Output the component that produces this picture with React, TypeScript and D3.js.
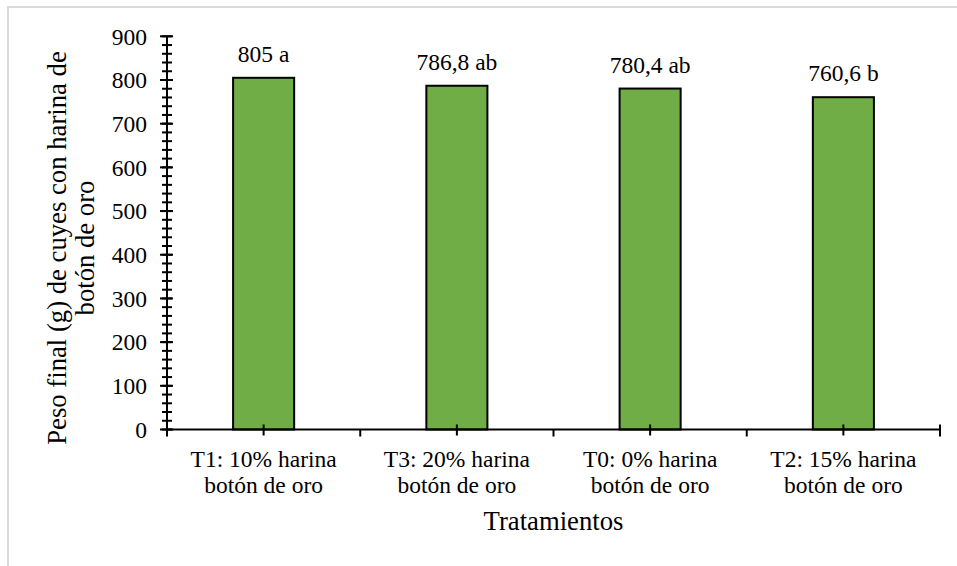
import React from "react";
import * as d3 from "d3";

const categories = ["T1: 10% harina|botón de oro", "T3: 20% harina|botón de oro", "T0: 0% harina|botón de oro", "T2: 15% harina|botón de oro"];
const values = [805, 786.8, 780.4, 760.6];
const valueLabels = ["805 a", "786,8 ab", "780,4 ab", "760,6 b"];
const yTicks = [0, 100, 200, 300, 400, 500, 600, 700, 800, 900];
const yTitle = ["Peso final (g) de cuyes con harina de", "botón de oro"];
const xTitle = "Tratamientos";

const W = 957, H = 566;
const left = 167, right = 940, top = 36.3, bottom = 429.5;
const FONT = "Liberation Serif";
const FS = 23.5;
const FT = 26.7;

export default function App() {
  const x = d3.scaleBand<string>().domain(categories).range([left, right]).padding(0);
  const y = d3.scaleLinear().domain([0, 900]).range([bottom, top]);
  const barW = x.bandwidth() * 0.316;
  const minor = d3.range(0, 901, 20);
  const boundaries = categories.slice(1).map((c) => x(c)!);
  const ts = { fontFamily: FONT, fontSize: FS + "px", fill: "#000" };
  const tt = { fontFamily: FONT, fontSize: FT + "px", fill: "#000" };

  return (
    <div style={{ position: "absolute", left: 0, top: 0 }}>
      <svg width={W} height={H} style={{ display: "block" }}>
        <rect x={0} y={0} width={W} height={H} fill="#fff" />
        <line x1={8} y1={7} x2={W} y2={7} stroke="#d9d9d9" strokeWidth={2} />
        <line x1={8} y1={6} x2={8} y2={H} stroke="#d9d9d9" strokeWidth={2} />

        {categories.map((c, i) => {
          const cx = x(c)! + x.bandwidth() / 2;
          return (
            <g key={c}>
              <rect x={cx - barW / 2} y={y(values[i])} width={barW} height={bottom - y(values[i])}
                fill="#70ad47" stroke="#000" strokeWidth={2} />
              <text x={cx} y={y(values[i]) - 16} textAnchor="middle" style={ts}>{valueLabels[i]}</text>
              {c.split("|").map((ln, j) => (
                <text key={j} x={cx} y={466.5 + j * 26.5} textAnchor="middle" style={ts}>{ln}</text>
              ))}
              <line x1={cx} x2={cx} y1={bottom - 5} y2={bottom + 6} stroke="#000" strokeWidth={2} />
            </g>
          );
        })}

        {/* y axis */}
        <line x1={left} x2={left} y1={y(0) + 7} y2={y(900)} stroke="#000" strokeWidth={2} />
        {minor.map((v) => (
          <line key={"m" + v} x1={left - 5} x2={left + 5} y1={y(v)} y2={y(v)} stroke="#000" strokeWidth={2} />
        ))}
        {yTicks.map((v) => (
          <g key={v}>
            <line x1={left - 7} x2={left + 6} y1={y(v)} y2={y(v)} stroke="#000" strokeWidth={2} />
            <text x={left - 20} y={y(v)} dy="0.35em" textAnchor="end" style={ts}>{v}</text>
          </g>
        ))}

        {/* x axis */}
        <line x1={left} x2={right} y1={bottom} y2={bottom} stroke="#000" strokeWidth={2} />
        {boundaries.map((bx) => (
          <line key={bx} x1={bx} x2={bx} y1={bottom} y2={bottom + 7} stroke="#000" strokeWidth={2} />
        ))}
        <line x1={right} x2={right} y1={bottom - 5} y2={bottom + 7} stroke="#000" strokeWidth={2} />

        <text x={553.5} y={530} textAnchor="middle" style={tt}>{xTitle}</text>

        {yTitle.map((t, j) => (
          <text key={j} transform={`translate(${65.5 + j * 28},248) rotate(-90)`} textAnchor="middle" style={tt}>{t}</text>
        ))}
      </svg>
    </div>
  );
}
